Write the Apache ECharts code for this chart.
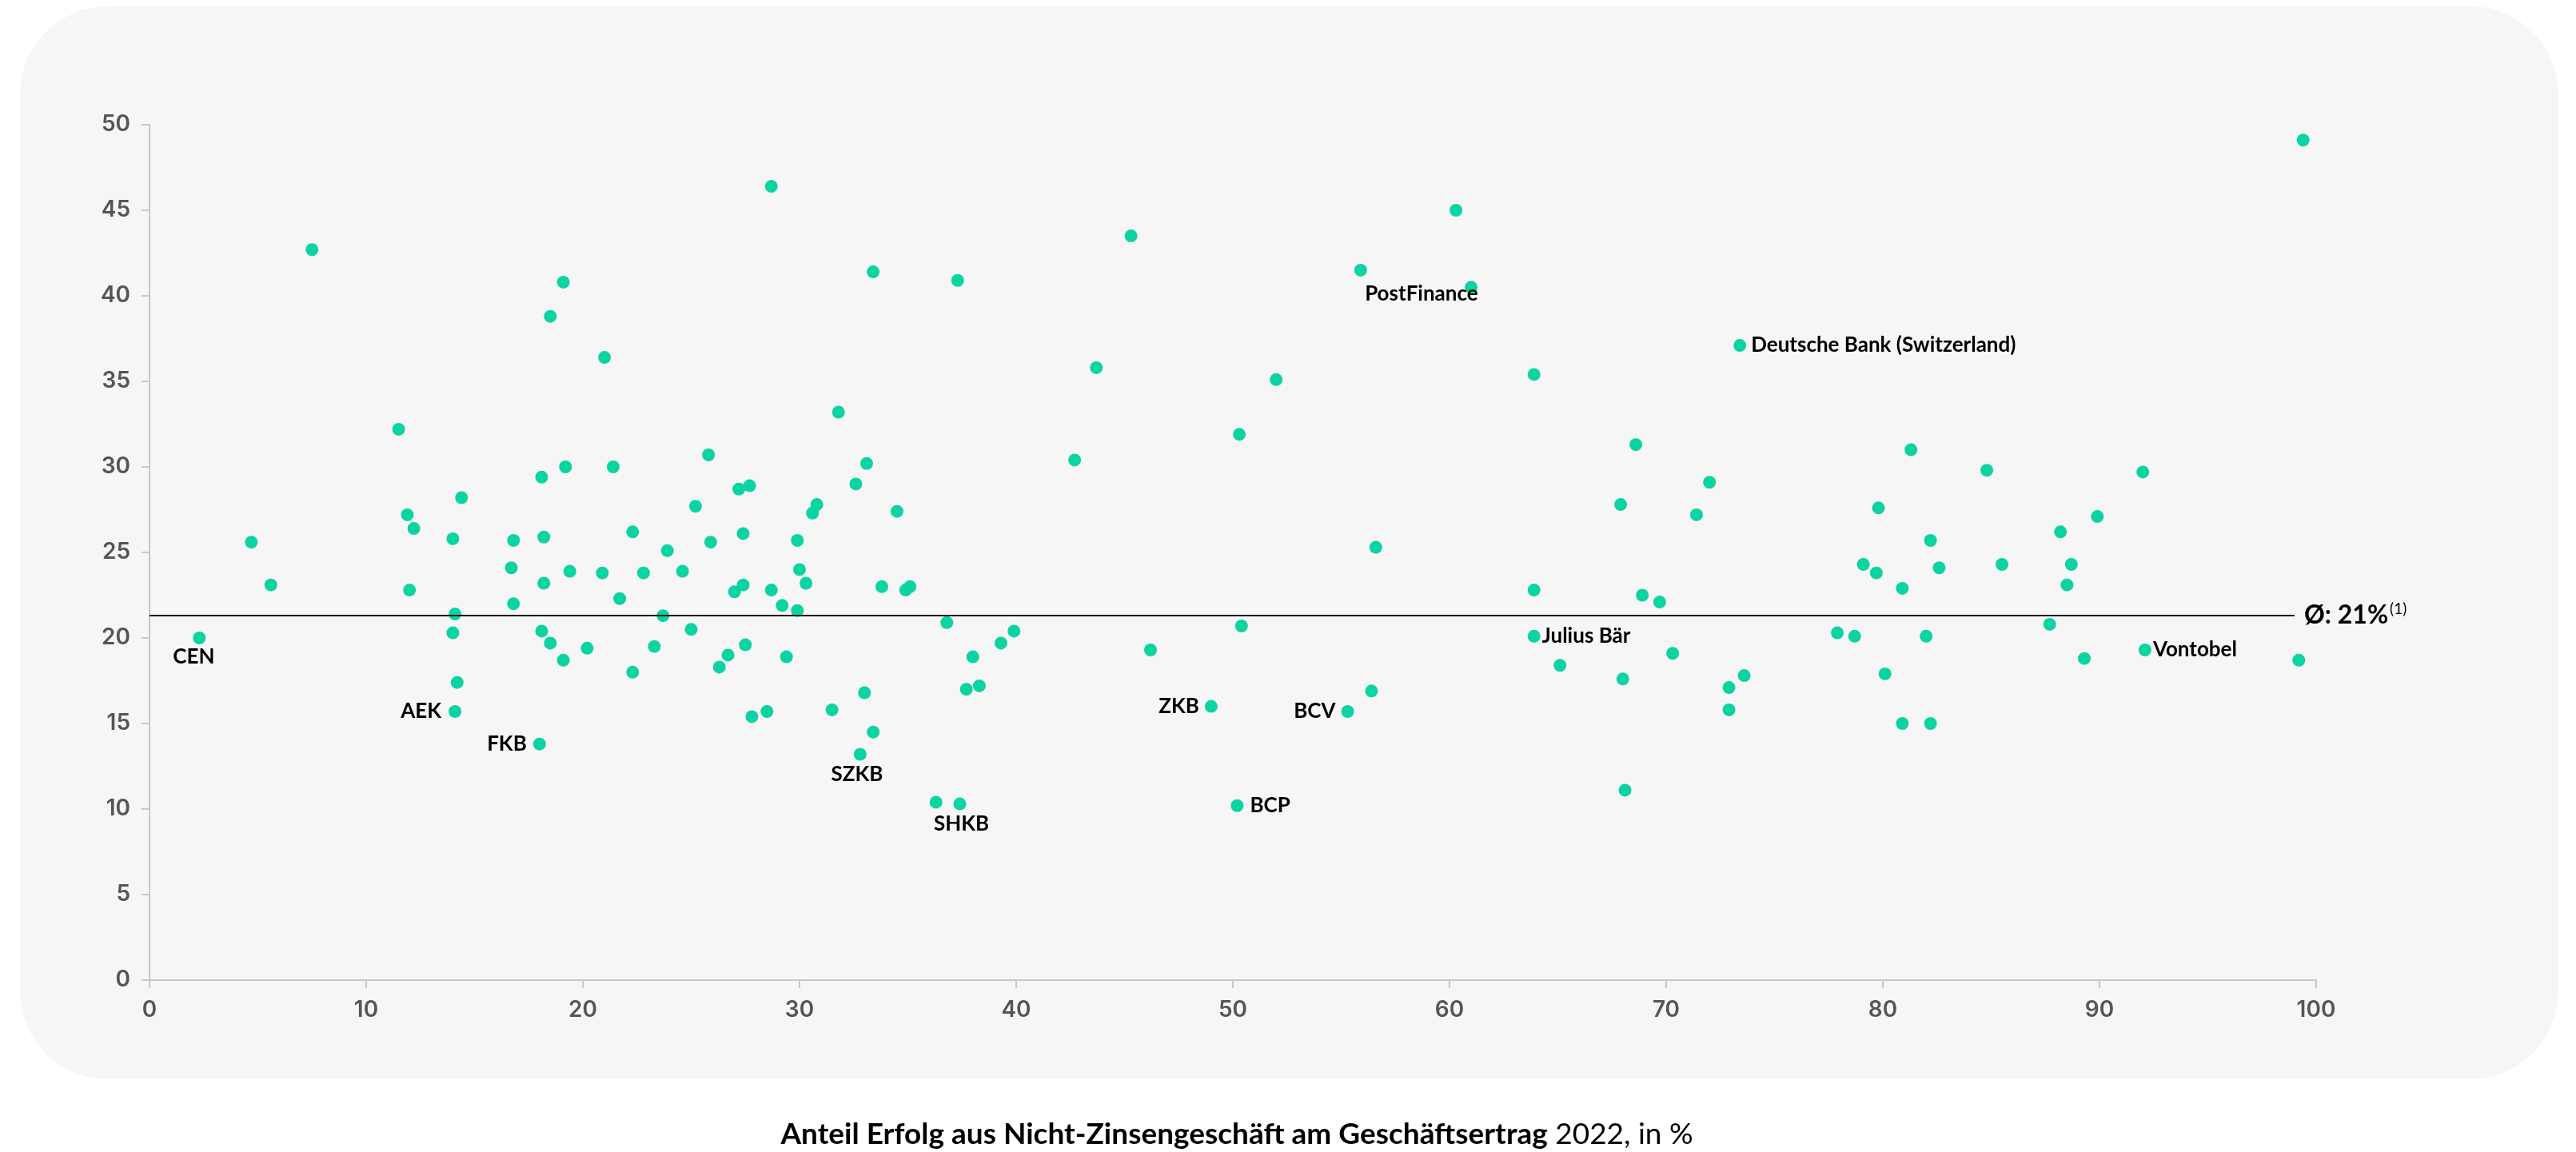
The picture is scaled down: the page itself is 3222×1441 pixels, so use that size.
<!DOCTYPE html>
<html>
<head>
<meta charset="utf-8">
<title>Anteil Erfolg aus Nicht-Zinsengeschäft</title>
<script src="https://cdn.jsdelivr.net/npm/echarts@6/dist/echarts.min.js"></script>
<style>
	html, body { margin: 0; padding: 0; background: #ffffff; }
	#chartmain { width: 3222px; height: 1441px; }
</style>
</head>
<body>
<div id="chartmain"></div>
<script>
// Banken ohne Beschriftung: x = Anteil Nicht-Zinsengeschäft, y = zweite Kennzahl
var shareX = [4.7, 5.6, 7.5, 11.5, 11.9, 12.2, 12.0, 14.0, 14.1, 14.0, 14.2, 14.4, 16.8, 16.7, 16.8,
	18.1, 18.2, 18.2, 18.1, 18.5, 18.5, 19.1, 19.2, 19.1, 19.4, 20.2, 20.9, 21.0, 21.4, 21.7,
	22.3, 22.3, 22.8, 23.3, 23.7, 23.9, 24.6, 25.0, 25.2, 25.8, 25.9, 26.3, 26.7, 27.0, 27.4,
	27.2, 27.7, 27.4, 27.5, 27.8, 28.5, 28.7, 28.7, 29.2, 29.4, 29.9, 30.0, 29.9, 30.3, 30.6,
	30.8, 31.5, 31.8, 32.6, 33.1, 33.0, 33.4, 33.4, 33.8, 34.5, 34.9, 35.1, 36.3, 36.8, 37.3,
	37.7, 38.3, 38.0, 39.3, 39.9, 42.7, 43.7, 45.3, 46.2, 50.3, 50.4, 52.0, 56.4, 61.0, 56.6,
	60.3, 63.9, 63.9, 65.1, 67.9, 68.6, 68.0, 68.1, 68.9, 69.7, 70.3, 71.4, 72.0, 72.9, 72.9,
	73.6, 77.9, 78.7, 79.1, 79.7, 79.8, 80.1, 80.9, 80.9, 81.3, 82.0, 82.2, 82.2, 82.6, 84.8,
	85.5, 87.7, 88.2, 88.5, 88.7, 89.3, 89.9, 92.0, 99.2, 99.4];
var shareY = [25.6, 23.1, 42.7, 32.2, 27.2, 26.4, 22.8, 25.8, 21.4, 20.3, 17.4, 28.2, 25.7, 24.1, 22.0,
	29.4, 25.9, 23.2, 20.4, 38.8, 19.7, 40.8, 30.0, 18.7, 23.9, 19.4, 23.8, 36.4, 30.0, 22.3,
	18.0, 26.2, 23.8, 19.5, 21.3, 25.1, 23.9, 20.5, 27.7, 30.7, 25.6, 18.3, 19.0, 22.7, 26.1,
	28.7, 28.9, 23.1, 19.6, 15.4, 15.7, 46.4, 22.8, 21.9, 18.9, 25.7, 24.0, 21.6, 23.2, 27.3,
	27.8, 15.8, 33.2, 29.0, 30.2, 16.8, 14.5, 41.4, 23.0, 27.4, 22.8, 23.0, 10.4, 20.9, 40.9,
	17.0, 17.2, 18.9, 19.7, 20.4, 30.4, 35.8, 43.5, 19.3, 31.9, 20.7, 35.1, 16.9, 40.5, 25.3,
	45.0, 35.4, 22.8, 18.4, 27.8, 31.3, 17.6, 11.1, 22.5, 22.1, 19.1, 27.2, 29.1, 17.1, 15.8,
	17.8, 20.3, 20.1, 24.3, 23.8, 27.6, 17.9, 15.0, 22.9, 31.0, 20.1, 25.7, 15.0, 24.1, 29.8,
	24.3, 20.8, 26.2, 23.1, 24.3, 18.8, 27.1, 29.7, 18.7, 49.1];

// Beschriftete Banken
var namedBanks = ['CEN', 'AEK', 'FKB', 'SZKB', 'SHKB', 'ZKB', 'BCP', 'BCV',
	'PostFinance', 'Julius Bär', 'Deutsche Bank (Switzerland)', 'Vontobel'];
var namedX = [2.3, 14.1, 18.0, 32.8, 37.4, 49.0, 50.2, 55.3, 55.9, 63.9, 73.4, 92.1];
var namedY = [20.0, 15.7, 13.8, 13.2, 10.3, 16.0, 10.2, 15.7, 41.5, 20.1, 37.1, 19.3];

var averageShare = 21.3;
var averageText = 'Ø: 21%';
var footnote = '(1)';

var titleBold = 'Anteil Erfolg aus Nicht-Zinsengeschäft am Geschäftsertrag';
var titleRest = ' 2022, in %';

var dotColor = '#0cd3a2';

// wo die Namen neben den Punkten stehen
var labelPlace = {
	'CEN': { position: 'bottom', distance: 3, offset: [-7, 0] },
	'AEK': { position: 'left', distance: 9 },
	'FKB': { position: 'left', distance: 8 },
	'SZKB': { position: 'bottom', distance: 4, offset: [-4, 0] },
	'SHKB': { position: 'bottom', distance: 4, offset: [2, 0] },
	'ZKB': { position: 'left', distance: 7 },
	'BCP': { position: 'right', distance: 8 },
	'BCV': { position: 'left', distance: 7 },
	'PostFinance': { position: 'bottom', distance: 9, offset: [76, 0] },
	'Julius Bär': { position: 'right', distance: 2 },
	'Deutsche Bank (Switzerland)': { position: 'right', distance: 6 },
	'Vontobel': { position: 'right', distance: 2 }
};

var plainData = [];
for (var i = 0; i < shareX.length; i++) {
	plainData.push([shareX[i], shareY[i]]);
}

var namedData = [];
for (var j = 0; j < namedBanks.length; j++) {
	var p = labelPlace[namedBanks[j]];
	namedData.push({
		name : namedBanks[j],
		value : [namedX[j], namedY[j]],
		label : {
			show : true,
			formatter : '{b}',
			position : p.position,
			distance : p.distance,
			offset : p.offset || [0, 0],
			color : '#000000',
			fontFamily : 'Lato',
			fontWeight : 'bold',
			fontSize : 26
		}
	});
}

var axisGrey = '#c8c8c8';

var option = {
	animation : false,
	backgroundColor : '#ffffff',
	graphic : [ {
		type : 'rect',
		z : -10,
		silent : true,
		shape : { x : 25, y : 8, width : 3175, height : 1342, r : 110 },
		style : { fill : '#f6f6f6' }
	} ],
	title : {
		text : '{b|' + titleBold + '}{r|' + titleRest + '}',
		left : 1542,
		top : 1396,
		textAlign : 'center',
		textStyle : {
			rich : {
				b : { fontFamily : 'Lato', fontWeight : 'bold', fontSize : 37, color : '#000000' },
				r : { fontFamily : 'Lato', fontWeight : 'normal', fontSize : 37, color : '#000000' }
			}
		}
	},
	grid : {
		left : 187,
		right : 325,
		top : 156,
		bottom : 215
	},
	xAxis : {
		type : 'value',
		min : 0,
		max : 100,
		interval : 10,
		splitLine : { show : false },
		axisLine : { show : true, lineStyle : { color : axisGrey, width : 2 } },
		axisTick : { show : true, length : 10, lineStyle : { color : axisGrey, width : 2 } },
		axisLabel : {
			margin : 24,
			color : '#555555',
			fontFamily : 'Inter',
			fontWeight : 600,
			fontSize : 28
		}
	},
	yAxis : {
		type : 'value',
		min : 0,
		max : 50,
		interval : 5,
		splitLine : { show : false },
		axisLine : { show : true, lineStyle : { color : axisGrey, width : 2 } },
		axisTick : { show : true, length : 10, lineStyle : { color : axisGrey, width : 2 } },
		axisLabel : {
			margin : 24,
			color : '#555555',
			fontFamily : 'Inter',
			fontWeight : 600,
			fontSize : 28
		}
	},
	series : [ {
		type : 'scatter',
		symbolSize : 16,
		itemStyle : { color : dotColor, opacity : 1 },
		data : plainData,
		markLine : {
			silent : true,
			symbol : [ 'none', 'none' ],
			lineStyle : { color : '#111111', width : 2, type : 'solid' },
			label : {
				show : true,
				position : 'end',
				distance : 12,
				formatter : '{a|' + averageText + '}{s|' + footnote + '}',
				rich : {
					a : { fontFamily : 'Lato', fontWeight : 'bold', fontSize : 32, color : '#000000', lineHeight : 36 },
					s : { fontFamily : 'Lato', fontSize : 19, color : '#000000', verticalAlign : 'top', lineHeight : 36, padding : [0, 0, 14, 2] }
				}
			},
			data : [ [ { coord : [ 0, averageShare ] }, { coord : [ 99, averageShare ] } ] ]
		}
	}, {
		type : 'scatter',
		symbolSize : 16,
		itemStyle : { color : dotColor, opacity : 1 },
		data : namedData
	} ]
};

var myChart = echarts.init(document.getElementById('chartmain'));
myChart.setOption(option);
</script>
</body>
</html>
